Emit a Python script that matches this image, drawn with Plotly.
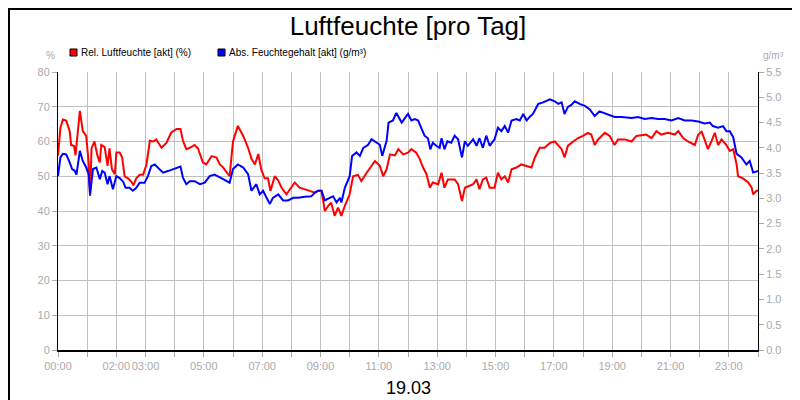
import plotly.graph_objects as go

# Relative humidity (%) : minutes after midnight, value
rel_min = [0,5,10,17,24,27,33,36,45,51,58,63,66,69,75,81,86,89,96,102,106,111,117,120,127,132,137,144,151,155,161,168,175,182,189,196,202,213,223,233,244,252,257,264,271,281,288,298,305,316,326,333,340,353,360,370,381,391,398,405,412,418,425,432,437,446,453,460,470,477,487,497,508,518,528,535,542,549,556,562,569,576,583,590,600,607,617,624,635,645,652,662,669,676,683,693,700,710,
           720,727,737,744,751,758,765,771,782,789,795,802,816,823,831,837,847,854,861,867,874,881,888,898,905,912,919,926,933,943,953,964,974,981,991,1001,1012,1022,1029,1036,1042,1049,1060,1070,1080,1090,1097,1104,1111,1125,1135,1145,1152,1166,1180,1190,1210,1221,1231,1241,1255,1269,1276,1286,1296,1310,1317,1324,1330,1337,1344,1351,1358,1365,1375,1382,1389,1396,1399,1409,1420,1427,1430,1437,1440]
rel_val = [55.9,64,66.3,66,63,59,58.7,56,68.8,63,61.6,54,44.3,58,60,56,54,59,58.4,53,58,52,50.6,56.8,56.8,55.4,50,49.4,48.4,47.4,49.4,50.4,50.4,53.4,60.2,60,60.6,58.2,59.6,62.6,63.6,63.6,60.2,57.8,58.2,59,58,54,53.4,55.8,55.4,53.4,52.5,50,60,64.5,61.6,58.2,55,53.4,56.4,52,49.4,49.4,45.8,50,48.8,46.7,44.8,46.3,48.2,46.7,46.3,45.8,45.3,45.8,45.8,40,41.5,42.4,38.6,41,38.6,41.5,44.8,50,50.4,48.6,51,53,54.4,53,50,52,56.3,56,57.8,56.3,
           56.8,57.8,56.8,55,52.5,50.6,46.7,48.2,47.7,51,46.7,49.1,49.1,47.7,42.9,46.7,47.2,47.7,49.1,46.3,49.1,49.6,46.7,46.7,51,49.1,50,48.2,52,52.5,53.4,53,52.5,55.4,58.2,58.2,59.6,60,59,57.8,55.4,58.8,60,61,61.6,62.5,62,59,60.6,62.5,61.6,59,60.6,60.6,60,61.6,62,61,63,62,62.5,62,63,61,60,59,62,62.8,60.6,57.8,60,62.5,59,60.6,59,57.3,57.8,53.4,50,49.4,48.2,46.7,44.8,45.8,45.8]

# Absolute humidity (g/m³)
abs_min = [0,5,10,17,24,29,34,38,45,51,58,63,66,72,79,86,91,96,102,106,113,120,127,134,139,147,154,161,168,178,185,192,199,206,216,226,237,247,252,257,264,271,281,292,302,312,322,336,353,360,370,381,391,398,408,415,422,429,436,442,453,463,473,484,494,508,521,528,535,542,549,559,566,573,580,583,590,600,605,614,621,628,638,645,655,662,667,676,680,689,696,707,
           720,727,734,741,747,754,761,766,771,778,785,789,795,801,809,816,823,831,837,843,854,861,867,874,881,888,898,905,912,919,926,933,943,950,957,964,970,977,988,998,1012,1022,1029,1036,1042,1049,1056,1063,1073,1084,1094,1104,1114,1128,1145,1159,1180,1193,1207,1221,1234,1248,1262,1276,1289,1303,1317,1330,1341,1347,1358,1368,1375,1382,1389,1396,1406,1416,1423,1430,1440]
abs_val = [3.44,3.81,3.88,3.87,3.71,3.58,3.55,3.47,3.94,3.74,3.61,3.48,3.08,3.58,3.61,3.38,3.54,3.51,3.28,3.44,3.18,3.44,3.40,3.33,3.21,3.21,3.15,3.21,3.31,3.31,3.44,3.64,3.67,3.61,3.51,3.54,3.58,3.61,3.63,3.41,3.28,3.34,3.34,3.28,3.31,3.44,3.47,3.40,3.31,3.58,3.67,3.61,3.48,3.15,3.28,3.08,3.15,3.01,2.89,3.01,3.08,2.96,2.96,3.01,3.01,3.03,3.04,3.11,3.15,3.15,2.96,3.01,3.04,2.92,3.01,2.92,3.21,3.44,3.84,3.91,3.84,4.00,4.06,4.17,4.10,4.06,3.84,4.14,4.50,4.54,4.69,4.50,
           4.67,4.54,4.57,4.54,4.40,4.24,4.19,3.97,4.10,4.04,4.00,4.19,3.97,4.13,4.10,4.24,4.17,3.81,4.13,4.04,4.17,4.04,4.19,4.00,4.24,4.04,4.17,4.40,4.33,4.43,4.30,4.54,4.57,4.54,4.67,4.54,4.61,4.67,4.87,4.90,4.96,4.92,4.87,4.90,4.67,4.81,4.85,4.92,4.87,4.83,4.76,4.63,4.72,4.67,4.61,4.61,4.59,4.61,4.57,4.59,4.57,4.57,4.54,4.59,4.54,4.54,4.52,4.48,4.50,4.43,4.40,4.43,4.33,4.33,4.21,3.88,3.81,3.67,3.74,3.51,3.54]

hours = list(range(25))
labelled = {0, 2, 3, 5, 7, 9, 11, 13, 15, 17, 19, 21, 23}
tick_vals = [h * 60 for h in hours]
tick_text = [f"{h:02d}:00" if h in labelled else "" for h in hours]

grey = "#aaaaaa"
fig = go.Figure()
fig.add_trace(go.Scatter(x=rel_min, y=rel_val, mode="lines", line=dict(color="#ff0000", width=2),
                         name="Rel. Luftfeuchte [akt] (%)", showlegend=False))
fig.add_trace(go.Scatter(x=abs_min, y=abs_val, mode="lines", line=dict(color="#0000ff", width=2),
                         name="Abs. Feuchtegehalt [akt] (g/m³)", yaxis="y2", showlegend=False))

axis_font = dict(family="Arial, Liberation Sans", size=11, color=grey)
fig.update_layout(
    width=800, height=400, margin=dict(l=50, r=50, t=64, b=58, autoexpand=False),
    paper_bgcolor="white", plot_bgcolor="white",
    font=dict(family="Arial, Liberation Sans"),
    title=dict(text="Luftfeuchte [pro Tag]", x=0.5, xanchor="center", y=0.955, yanchor="middle",
               font=dict(size=26, color="black")),
    xaxis=dict(range=[0, 1440], tickvals=tick_vals, ticktext=tick_text, showgrid=True, gridcolor="#c0c0c0",
               showline=True, linecolor="black", linewidth=2, ticks="outside", ticklen=5, tickcolor=grey,
               tickfont=axis_font, tickangle=0, automargin=False, zeroline=False, mirror=False),
    yaxis=dict(range=[0, 80], dtick=10, showgrid=True, gridcolor="#c0c0c0", showline=True, linecolor="black",
               linewidth=1, ticks="outside", ticklen=5, tickcolor=grey, tickfont=axis_font, zeroline=False,
               automargin=False),
    yaxis2=dict(range=[0, 5.5], dtick=0.5, tickformat=".1f", overlaying="y", side="right", showgrid=False,
                showline=True, linecolor="black", linewidth=1, ticks="outside", ticklen=5, tickcolor=grey,
                tickfont=axis_font, zeroline=False, automargin=False),
    shapes=[
        dict(type="rect", xref="paper", yref="paper", x0=-49/700, x1=1+48/700, y0=-56/278, y1=1+63/278,
             line=dict(color="black", width=2)),
        dict(type="rect", xref="paper", yref="paper", x0=12/700, x1=19/700, y0=1+16/278, y1=1+23/278,
             fillcolor="#ff0000", line=dict(color="black", width=1)),
        dict(type="rect", xref="paper", yref="paper", x0=160/700, x1=167/700, y0=1+16/278, y1=1+23/278,
             fillcolor="#0000ff", line=dict(color="black", width=1)),
    ],
    annotations=[
        dict(text="Rel. Luftfeuchte [akt] (%)", xref="paper", yref="paper", x=21/700, y=1+19.5/278,
             xanchor="left", yanchor="middle", showarrow=False, font=dict(size=10, color="black")),
        dict(text="Abs. Feuchtegehalt [akt] (g/m³)", xref="paper", yref="paper", x=169/700, y=1+19.5/278,
             xanchor="left", yanchor="middle", showarrow=False, font=dict(size=10, color="black")),
        dict(text="%", xref="paper", yref="paper", x=-8/700, y=1+16/278, xanchor="center", yanchor="middle",
             showarrow=False, font=dict(size=10, color=grey)),
        dict(text="g/m³", xref="paper", yref="paper", x=1+15/700, y=1+16/278, xanchor="center", yanchor="middle",
             showarrow=False, font=dict(size=10, color=grey)),
        dict(text="19.03", xref="paper", yref="paper", x=0.5, y=-38/278, xanchor="center", yanchor="middle",
             showarrow=False, font=dict(size=18, color="black")),
    ],
)
fig.write_html("out.html")
